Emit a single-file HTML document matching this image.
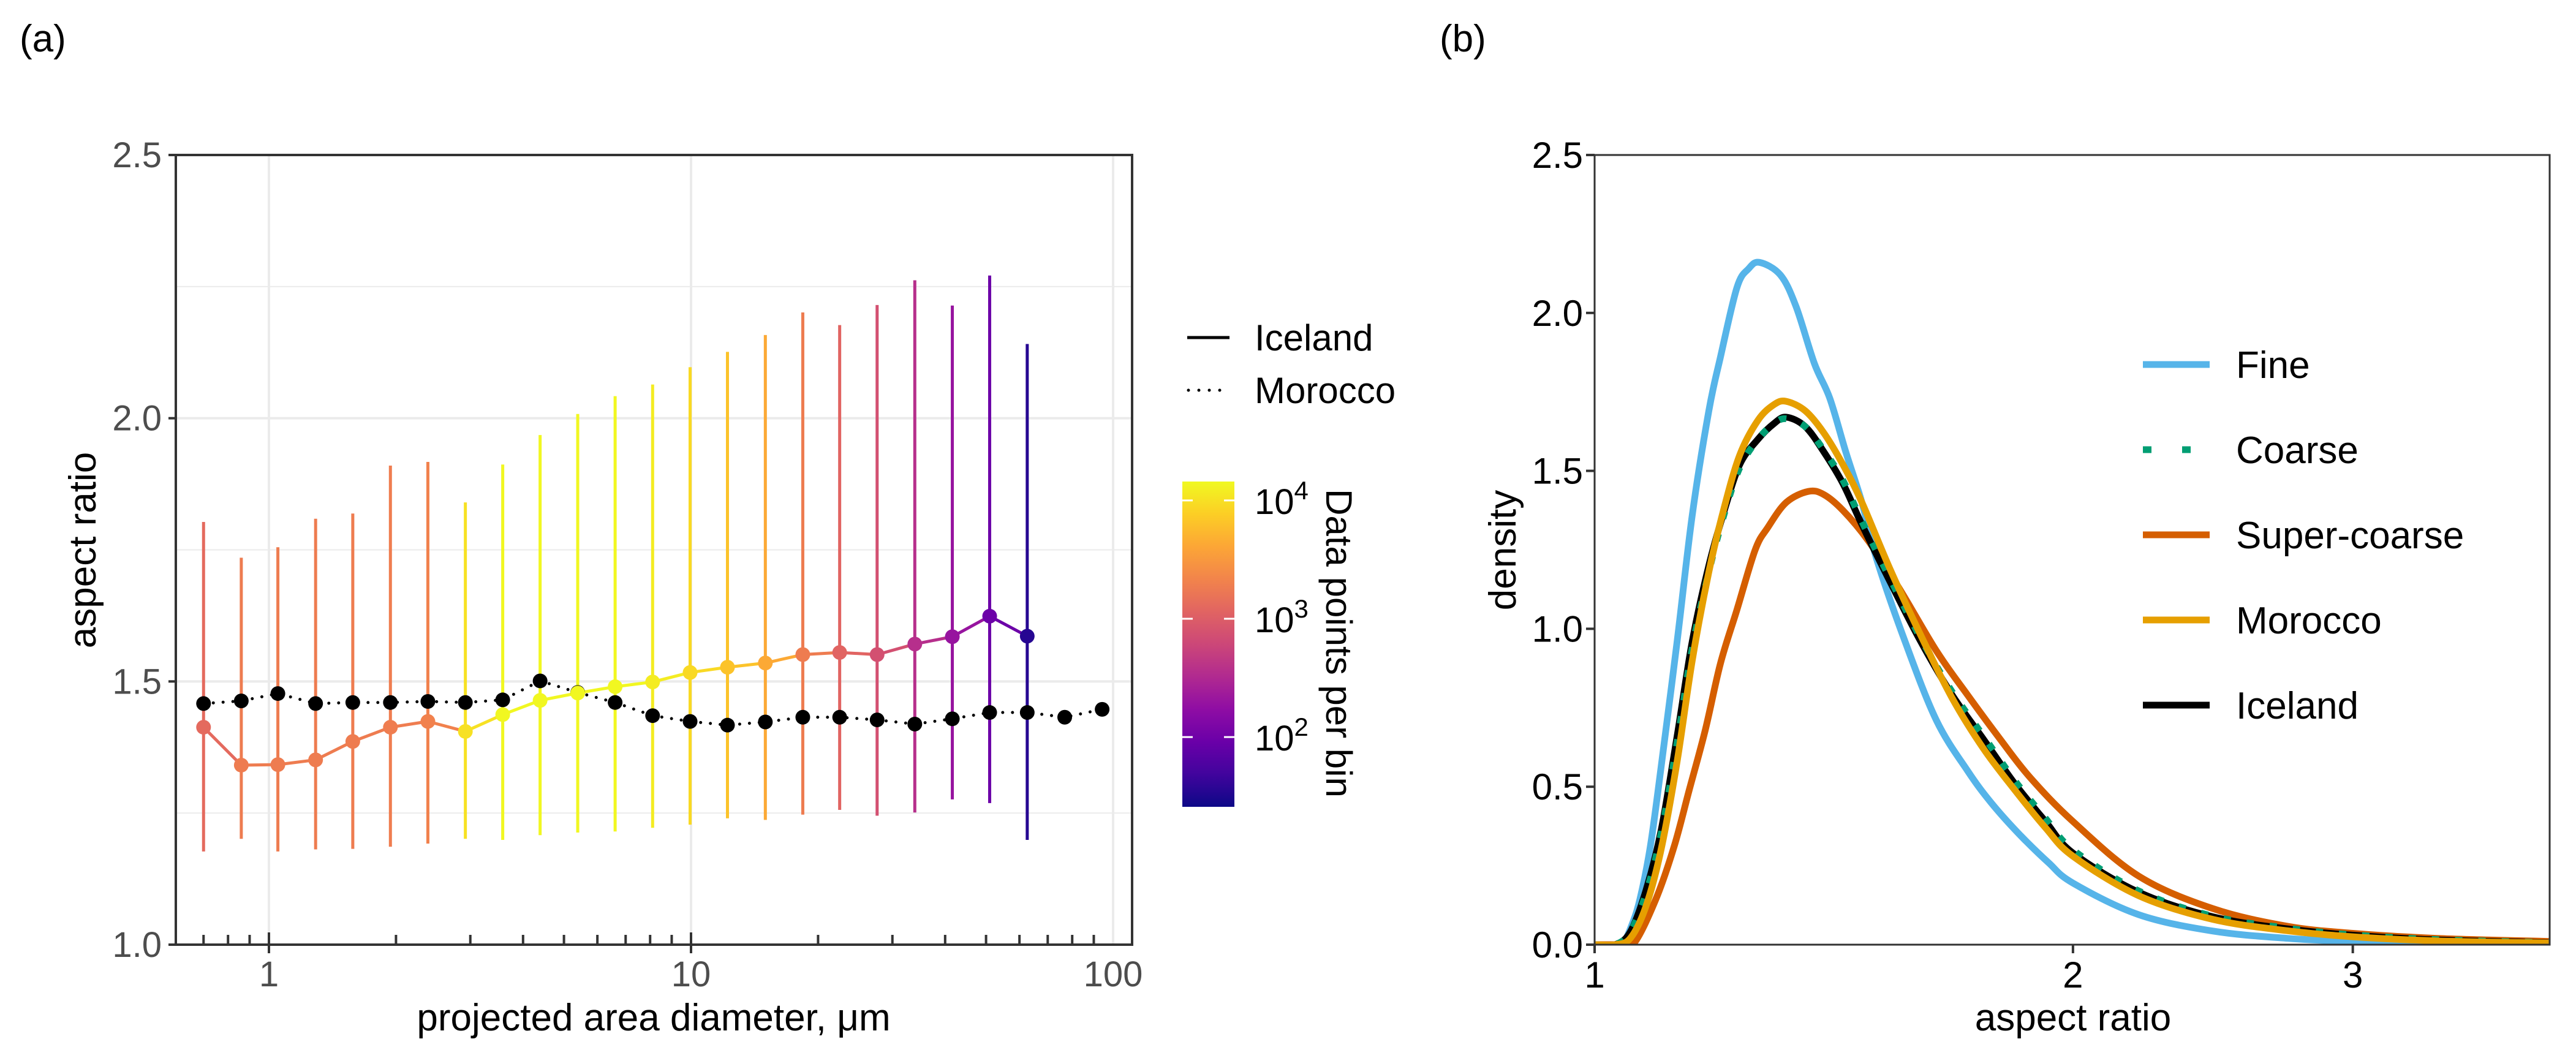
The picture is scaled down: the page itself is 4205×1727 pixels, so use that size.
<!DOCTYPE html>
<html><head><meta charset="utf-8"><style>
html,body{margin:0;padding:0;background:#fff;}
svg{display:block;}
text{font-family:"Liberation Sans Narrow","Liberation Sans",sans-serif;font-stretch:condensed;}
</style></head><body>
<svg id="chart" width="4205" height="1727" viewBox="0 0 4205 1727" xmlns="http://www.w3.org/2000/svg">
<defs>
<linearGradient id="plasma" x1="0" y1="1" x2="0" y2="0">
<stop offset="0" stop-color="#0d0887"/><stop offset="0.1" stop-color="#41049d"/><stop offset="0.2" stop-color="#6a00a8"/><stop offset="0.3" stop-color="#8f0da4"/><stop offset="0.4" stop-color="#b12a90"/><stop offset="0.5" stop-color="#cc4778"/><stop offset="0.6" stop-color="#e16462"/><stop offset="0.7" stop-color="#f2844b"/><stop offset="0.8" stop-color="#fca636"/><stop offset="0.9" stop-color="#fcce25"/><stop offset="1" stop-color="#f0f921"/>
</linearGradient>
<clipPath id="clipA"><rect x="287" y="253" width="1561" height="1289"/></clipPath>
<clipPath id="clipB"><rect x="2603" y="253" width="1559" height="1289"/></clipPath>
</defs>
<g id="panelA"></g>
<g id="panelB"></g>
</svg>
<script>
// ---------- Panel (a) data ----------
const diam = [0.70,0.86,1.05,1.29,1.58,1.94,2.38,2.92,3.58,4.39,5.39,6.61,8.11,9.95,12.2,15.0,18.4,22.5,27.6,33.9,41.6,51.0,62.6];
const icelandMean = [1.413,1.341,1.342,1.351,1.386,1.413,1.424,1.405,1.437,1.464,1.478,1.490,1.499,1.517,1.527,1.535,1.551,1.555,1.551,1.571,1.585,1.624,1.586];
const icelandHigh = [1.803,1.735,1.755,1.809,1.819,1.910,1.917,1.840,1.912,1.968,2.008,2.042,2.064,2.097,2.126,2.158,2.201,2.177,2.215,2.262,2.214,2.271,2.141];
const icelandLow = [1.177,1.201,1.177,1.181,1.182,1.186,1.192,1.201,1.199,1.208,1.213,1.215,1.222,1.228,1.240,1.237,1.247,1.256,1.245,1.251,1.276,1.269,1.199];
const icelandCounts = [1290,1860,1860,1860,1860,1900,2050,10200,14000,14000,14000,14000,12000,9000,6400,4300,1860,1150,750,360,200,95,35];
const moroccoDiam = [0.70,0.86,1.05,1.29,1.58,1.94,2.38,2.92,3.58,4.39,5.39,6.61,8.11,9.95,12.2,15.0,18.4,22.5,27.6,33.9,41.6,51.0,62.6,76.8,94.2];
const moroccoMean = [1.458,1.463,1.477,1.458,1.460,1.460,1.462,1.460,1.465,1.501,1.479,1.460,1.435,1.424,1.417,1.423,1.432,1.432,1.427,1.419,1.429,1.441,1.441,1.432,1.447];
const xTicksA = [1,10,100];
const yTicksA = [1.0,1.5,2.0,2.5];
const cbTicks = [2,3,4];

// ---------- Panel (b) data ----------
const fineAR = [1.0,1.03,1.041,1.055,1.068,1.084,1.101,1.127,1.152,1.18,1.2,1.229,1.25,1.27,1.309,1.339,1.375,1.406,1.439,1.473,1.505,1.568,1.641,1.717,1.776,1.85,1.93,2.0,2.2,2.45,2.73,3.0,3.39,4.0];
const fineD  = [0,0,0,0.06,0.145,0.31,0.56,0.96,1.36,1.69,1.86,2.08,2.14,2.16,2.12,2.02,1.84,1.73,1.56,1.40,1.22,0.96,0.71,0.55,0.45,0.35,0.26,0.195,0.095,0.043,0.02,0.01,0.005,0.002];
const icelandAR = [1.0,1.03,1.053,1.077,1.101,1.127,1.152,1.18,1.206,1.234,1.267,1.297,1.32,1.357,1.394,1.433,1.473,1.534,1.604,1.679,1.757,1.838,1.922,2.0,2.2,2.45,2.73,3.0,3.39,4.0];
const icelandD  = [0,0,0.04,0.17,0.36,0.66,0.96,1.20,1.37,1.52,1.60,1.65,1.67,1.64,1.56,1.46,1.33,1.15,0.96,0.79,0.65,0.51,0.39,0.29,0.166,0.088,0.05,0.03,0.015,0.006];
const coarseD   = [0,0,0.04,0.16,0.35,0.64,0.94,1.18,1.36,1.51,1.60,1.65,1.665,1.64,1.565,1.47,1.34,1.16,0.97,0.80,0.66,0.52,0.40,0.30,0.17,0.09,0.052,0.031,0.016,0.006];
const moroccoD  = [0,0,0.02,0.12,0.30,0.58,0.90,1.18,1.38,1.55,1.66,1.71,1.72,1.69,1.62,1.52,1.40,1.19,0.98,0.78,0.62,0.49,0.37,0.28,0.155,0.08,0.044,0.025,0.012,0.005];
const superAR = [1.0,1.03,1.057,1.092,1.122,1.147,1.174,1.2,1.229,1.262,1.285,1.32,1.363,1.394,1.433,1.486,1.554,1.641,1.717,1.797,1.879,2.0,2.2,2.45,2.73,3.0,3.39,4.0];
const superD  = [0,0,0,0.14,0.31,0.49,0.68,0.89,1.06,1.25,1.32,1.40,1.435,1.425,1.375,1.28,1.13,0.93,0.79,0.655,0.53,0.39,0.217,0.114,0.058,0.036,0.02,0.01];
const xTicksB = [1,2,3];
const yTicksB = [0.0,0.5,1.0,1.5,2.0,2.5];
const legendB = ["Fine","Coarse","Super-coarse","Morocco","Iceland"];

const NS="http://www.w3.org/2000/svg";
function mk(parent, tag, attrs, txt){const e=document.createElementNS(NS,tag);for(const k in attrs)e.setAttribute(k,attrs[k]);if(txt!==undefined)e.textContent=txt;parent.appendChild(e);return e;}

const xA = v => 439 + 689*Math.log10(v);
const yA = v => 1542 - (v-1)*859.33;
const xB = v => 2603 + 2594*Math.log10(v);
const yB = v => 1542 - v*515.6;

const stops=[[0,"#0d0887"],[0.1,"#41049d"],[0.2,"#6a00a8"],[0.3,"#8f0da4"],[0.4,"#b12a90"],[0.5,"#cc4778"],[0.6,"#e16462"],[0.7,"#f2844b"],[0.8,"#fca636"],[0.9,"#fcce25"],[1,"#f0f921"]];
function hex(h){return [1,3,5].map(i=>parseInt(h.substr(i,2),16));}
function plasma(c){let t=(Math.log10(c)-1.41)/(4.16-1.41);t=Math.max(0,Math.min(1,t));
 for(let i=1;i<stops.length;i++){if(t<=stops[i][0]){const a=hex(stops[i-1][1]),b=hex(stops[i][1]);const f=(t-stops[i-1][0])/(stops[i][0]-stops[i-1][0]);return "rgb("+a.map((v,k)=>Math.round(v+(b[k]-v)*f)).join(",")+")";}}return stops[10][1];}

// ===== Panel A =====
const A=document.getElementById('panelA');
let e;
e=mk(A,'text',{x:32,y:84,'font-size':62,fill:'#000'},'(a)');


const gridA=mk(A,'g',{});


[1.25,1.75,2.25].forEach(v=>{mk(gridA,'line',{x1:287,x2:1848,y1:yA(v),y2:yA(v),stroke:'#ebebeb','stroke-width':2});});
[1.5,2.0].forEach(v=>{mk(gridA,'line',{x1:287,x2:1848,y1:yA(v),y2:yA(v),stroke:'#ebebeb','stroke-width':4});});
xTicksA.forEach(v=>{mk(gridA,'line',{x1:xA(v),x2:xA(v),y1:253,y2:1542,stroke:'#ebebeb','stroke-width':4});});

const dataA=mk(A,'g',{'clip-path':'url(#clipA)'});


diam.forEach((d,i)=>{const l=mk(dataA,'line',{x1:xA(d),x2:xA(d),y1:yA(icelandLow[i]),y2:yA(icelandHigh[i]),stroke:plasma(icelandCounts[i]),'stroke-width':5});
 
 });
const mp=moroccoDiam.map((d,i)=>xA(d)+','+yA(moroccoMean[i])).join(' ');
e=mk(dataA,'polyline',{points:mp,fill:'none',stroke:'#000','stroke-width':5,'stroke-dasharray':'0 16','stroke-linecap':'round'});


for(let i=0;i<diam.length-1;i++){const s=mk(dataA,'line',{x1:xA(diam[i]),y1:yA(icelandMean[i]),x2:xA(diam[i+1]),y2:yA(icelandMean[i+1]),stroke:plasma(icelandCounts[i]),'stroke-width':5});
 
 }
moroccoDiam.forEach((d,i)=>{const c=mk(dataA,'circle',{cx:xA(d),cy:yA(moroccoMean[i]),r:12,fill:'#000'});
 
 });
diam.forEach((d,i)=>{const c=mk(dataA,'circle',{cx:xA(d),cy:yA(icelandMean[i]),r:12,fill:plasma(icelandCounts[i])});
 
 });
e=mk(A,'rect',{x:287,y:253,width:1561,height:1289,fill:'none',stroke:'#333','stroke-width':4});


const axA=mk(A,'g',{});


yTicksA.forEach(v=>{mk(axA,'line',{x1:275,x2:287,y1:yA(v),y2:yA(v),stroke:'#333','stroke-width':4});
 const t=mk(axA,'text',{x:264,y:yA(v)+20,'font-size':58,fill:'#4d4d4d','text-anchor':'end'},v.toFixed(1));
 
 });
for(let dec=-1;dec<=1;dec++){for(let m=1;m<10;m++){const v=m*Math.pow(10,dec);if(v<0.65||v>100)continue;
 const X=xA(v);if(m===1){mk(axA,'line',{x1:X,x2:X,y1:1522,y2:1556,stroke:'#333','stroke-width':4});}
 else mk(axA,'line',{x1:X,x2:X,y1:1526,y2:1542,stroke:'#333','stroke-width':4});}}
xTicksA.forEach(v=>{const t=mk(axA,'text',{x:xA(v),y:1610,'font-size':58,fill:'#4d4d4d','text-anchor':'middle'},String(v));
 
 });
e=mk(A,'text',{x:1067,y:1682,'font-size':62,fill:'#000','text-anchor':'middle'},'projected area diameter, μm');


e=mk(A,'text',{x:0,y:0,'font-size':62,fill:'#000','text-anchor':'middle',transform:'translate(156,898) rotate(-90)'},'aspect ratio');


const lgA=mk(A,'g',{});


mk(lgA,'line',{x1:1938,x2:2007,y1:551,y2:551,stroke:'#000','stroke-width':5});
e=mk(lgA,'text',{x:2048,y:572,'font-size':60,fill:'#000'},'Iceland');


mk(lgA,'line',{x1:1940,x2:2007,y1:637,y2:637,stroke:'#000','stroke-width':5,'stroke-dasharray':'0 17','stroke-linecap':'round'});
e=mk(lgA,'text',{x:2048,y:658,'font-size':60,fill:'#000'},'Morocco');


const cb=mk(A,'g',{});


mk(cb,'rect',{x:1930,y:786,width:85,height:531,fill:'url(#plasma)'});
const cbY=v=>1317-(v-1.41)/(4.16-1.41)*531;
cbTicks.forEach(p=>{const Y=cbY(p);mk(cb,'line',{x1:1930,x2:1947,y1:Y,y2:Y,stroke:'#fff','stroke-width':3});mk(cb,'line',{x1:1998,x2:2015,y1:Y,y2:Y,stroke:'#fff','stroke-width':3});
 const t=mk(cb,'text',{x:2048,y:Y+22,'font-size':58,fill:'#000'});t.textContent='10';
 mk(t,'tspan',{dy:-24,'font-size':42},String(p));
 
 });
e=mk(cb,'text',{x:0,y:0,'font-size':60,fill:'#000','text-anchor':'middle',transform:'translate(2165,1050) rotate(90)'},'Data points per bin');



// ===== Panel B =====
const B=document.getElementById('panelB');
e=mk(B,'text',{x:2350,y:84,'font-size':62,fill:'#000'},'(b)');


const dataB=mk(B,'g',{'clip-path':'url(#clipB)'});


function smoothPath(pts){let d='M'+pts[0][0]+','+pts[0][1];
 for(let i=0;i<pts.length-1;i++){const p0=pts[Math.max(0,i-1)],p1=pts[i],p2=pts[i+1],p3=pts[Math.min(pts.length-1,i+2)];
  const c1x=p1[0]+(p2[0]-p0[0])/6,c1y=p1[1]+(p2[1]-p0[1])/6,c2x=p2[0]-(p3[0]-p1[0])/6,c2y=p2[1]-(p3[1]-p1[1])/6;
  d+=' C'+c1x+','+c1y+' '+c2x+','+c2y+' '+p2[0]+','+p2[1];}
 return d;}
function curve(ar,d,color,name,dash){const pts=ar.map((a,i)=>[xB(a),yB(d[i])]);
 const attrs={d:smoothPath(pts),fill:'none',stroke:color,'stroke-width':11,'stroke-linejoin':'round'};
 if(dash){attrs['stroke-dasharray']=dash;}
 const c=mk(dataB,'path',attrs);
 
 }
curve(fineAR,fineD,'#56b4e9','fine-curve');
curve(superAR,superD,'#d55e00','super-coarse-curve');
curve(icelandAR,icelandD,'#000','iceland-curve');
curve(icelandAR,coarseD,'#009e73','coarse-curve','12 26');
curve(icelandAR,moroccoD,'#e69f00','morocco-curve');
e=mk(B,'rect',{x:2603,y:253,width:1559,height:1289,fill:'none',stroke:'#333','stroke-width':3});


const axB=mk(B,'g',{});


yTicksB.forEach(v=>{mk(axB,'line',{x1:2589,x2:2603,y1:yB(v),y2:yB(v),stroke:'#333','stroke-width':4});
 const t=mk(axB,'text',{x:2584,y:yB(v)+21,'font-size':60,fill:'#000','text-anchor':'end'},v.toFixed(1));
 
 });
xTicksB.forEach(v=>{mk(axB,'line',{x1:xB(v),x2:xB(v),y1:1542,y2:1556,stroke:'#333','stroke-width':4});
 const t=mk(axB,'text',{x:xB(v),y:1612,'font-size':60,fill:'#000','text-anchor':'middle'},String(v));
 
 });
e=mk(B,'text',{x:3384,y:1682,'font-size':62,fill:'#000','text-anchor':'middle'},'aspect ratio');


e=mk(B,'text',{x:0,y:0,'font-size':62,fill:'#000','text-anchor':'middle',transform:'translate(2474,898) rotate(-90)'},'density');


const lgB=mk(B,'g',{});


const lgColors=['#56b4e9','#009e73','#d55e00','#e69f00','#000'];
legendB.forEach((name,i)=>{const Y=595+i*139;
 const attrs={x1:3498,x2:3607,y1:Y,y2:Y,stroke:lgColors[i],'stroke-width':11};
 if(i===1){attrs['stroke-dasharray']='14 50';}
 mk(lgB,'line',attrs);
 const t=mk(lgB,'text',{x:3650,y:Y+22,'font-size':62,fill:'#000'},name);
 
 });
</script>
</body></html>
